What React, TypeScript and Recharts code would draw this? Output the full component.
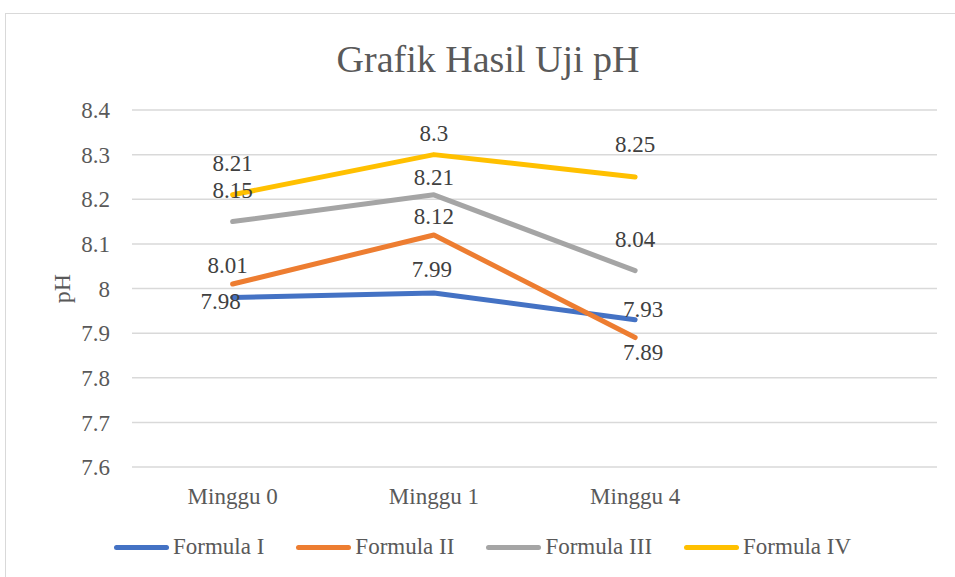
import React from 'react';
import { CartesianGrid, LabelList, Line, LineChart, XAxis, YAxis } from 'recharts';

const categories = ['Minggu 0', 'Minggu 1', 'Minggu 4', ''];
const formulaI = [7.98, 7.99, 7.93, null];
const formulaII = [8.01, 8.12, 7.89, null];
const formulaIII = [8.15, 8.21, 8.04, null];
const formulaIV = [8.21, 8.3, 8.25, null];
const yTicks = [7.6, 7.7, 7.8, 7.9, 8.0, 8.1, 8.2, 8.3, 8.4];

const FONT = "'Liberation Serif', Tinos, 'DejaVu Serif', serif";
const TEXT = '#595959';

const series = [
  { key: 'f1', name: 'Formula I', values: formulaI, color: '#4472C4', dx: [-12, -2, 8], dy: [4, -23, -10] },
  { key: 'f2', name: 'Formula II', values: formulaII, color: '#ED7D31', dx: [-5, 0, 8], dy: [-19, -18, 15] },
  { key: 'f3', name: 'Formula III', values: formulaIII, color: '#A5A5A5', dx: [0, 0, 0], dy: [-31, -17, -31] },
  { key: 'f4', name: 'Formula IV', values: formulaIV, color: '#FFC000', dx: [0, 0, 0], dy: [-31, -21, -32] },
];

const data = categories.map((cat, i) => {
  const row: any = { cat };
  series.forEach((s) => {
    row[s.key] = s.values[i];
  });
  return row;
});

const fmt = (v: number) => (Math.abs(v - 8) < 1e-9 ? '8' : String(v));

export default function App() {
  return (
    <div style={{ position: 'absolute', left: 0, top: 0, width: 955, height: 577, overflow: 'hidden', background: '#fff', fontFamily: FONT }}>
      <div style={{ position: 'absolute', left: 5, top: 13, width: 1000, height: 700, border: '1.5px solid #d9d9d9', boxSizing: 'border-box' }} />
      <div style={{ position: 'absolute', left: 0, top: 34, width: 976, textAlign: 'center', fontSize: 38, color: TEXT, lineHeight: '50px', fontFamily: FONT }}>
        Grafik Hasil Uji pH
      </div>
      <div style={{ position: 'absolute', left: 0, top: 0 }}>
        <LineChart width={955} height={577} data={data} margin={{ top: 110, right: 18, bottom: 70, left: 0 }}>
          <CartesianGrid vertical={false} stroke="#d9d9d9" strokeWidth={1.5} />
          <XAxis
            dataKey="cat"
            scale="band"
            axisLine={false}
            tickLine={false}
            tickSize={0}
            tickMargin={21}
            height={40}
            interval={0}
            tick={{ fontSize: 23, fill: TEXT, fontFamily: FONT }}
          />
          <YAxis
            domain={[7.6, 8.4]}
            ticks={yTicks}
            tickFormatter={fmt}
            axisLine={false}
            tickLine={false}
            tickSize={0}
            tickMargin={22}
            width={132}
            tick={{ fontSize: 23, fill: TEXT, fontFamily: FONT }}
            label={(props: any) => {
              const vb = props.viewBox || {};
              const cx = 62;
              const cy = (vb.y ?? 110) + (vb.height ?? 357) / 2;
              return (
                <text x={cx} y={cy} transform={`rotate(-90 ${cx} ${cy})`} textAnchor="middle" dominantBaseline="central" fontSize={24} fill={TEXT} style={{ fontFamily: FONT }}>
                  pH
                </text>
              );
            }}
          />
          {series.map((s) => (
            <Line
              key={s.key}
              type="linear"
              dataKey={s.key}
              name={s.name}
              stroke={s.color}
              strokeWidth={5}
              strokeLinecap="round"
              strokeLinejoin="round"
              dot={false}
              activeDot={false}
              isAnimationActive={false}
            >
              <LabelList
                dataKey={s.key}
                content={(p: any) => {
                  const { x, y, value, index } = p;
                  if (value == null || x == null || y == null) return null;
                  return (
                    <text
                      x={x + (s.dx[index] ?? 0)}
                      y={y + (s.dy[index] ?? 0)}
                      textAnchor="middle"
                      dominantBaseline="central"
                      fontSize={23}
                      fill="#404040"
                      style={{ fontFamily: FONT }}
                    >
                      {fmt(value)}
                    </text>
                  );
                }}
              />
            </Line>
          ))}
        </LineChart>
      </div>
      <div style={{ position: 'absolute', left: 114, top: 532, display: 'flex', alignItems: 'center', gap: 32, height: 30 }}>
        {series.map((s) => (
          <div key={s.key} style={{ display: 'flex', alignItems: 'center' }}>
            <div style={{ width: 55, height: 5, borderRadius: 3, background: s.color, marginRight: 4 }} />
            <span style={{ fontSize: 23, color: TEXT, whiteSpace: 'nowrap', fontFamily: FONT }}>{s.name}</span>
          </div>
        ))}
      </div>
    </div>
  );
}
